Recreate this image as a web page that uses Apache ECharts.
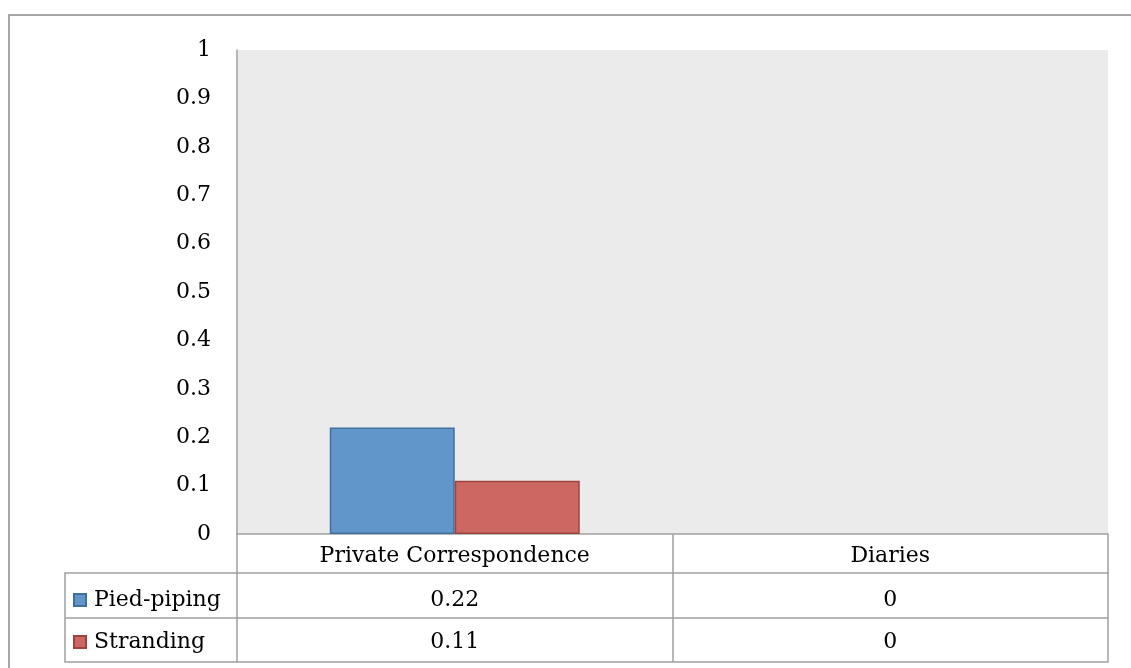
<!DOCTYPE html>
<html>
<head>
<meta charset="utf-8">
<script src="https://cdn.jsdelivr.net/npm/echarts@6/dist/echarts.min.js"></script>
<style>
  html, body { margin: 0; padding: 0; background: #fff; }
  #main { width: 1131px; height: 668px; }
</style>
</head>
<body>
<div id="main"></div>
<script>
// data
const categories = ['Private Correspondence', 'Diaries'];
const piedPiping = [0.22, 0];
const stranding = [0.11, 0];
const seriesNames = ['Pied-piping', 'Stranding'];

const font = 'DejaVu Serif';
const fontSize = 22;
const lineColor = '#a0a0a0';

const chart = echarts.init(document.getElementById('main'));

// one category axis per table row, stacked below the grid with offset
function tableAxis(offset, tickLen, values, margin) {
    return {
        type: 'category',
        data: categories,
        position: 'bottom',
        offset: offset,
        axisLine: { show: true, lineStyle: { color: lineColor, width: 1.5 } },
        axisTick: { show: tickLen > 0, length: tickLen, alignWithLabel: false, lineStyle: { color: lineColor, width: 1.5 } },
        axisLabel: {
            show: !!values,
            margin: margin,
            fontFamily: font,
            fontSize: fontSize,
            color: '#000',
            formatter: function (v, i) { return values ? String(values[i]) : ''; }
        },
        splitLine: { show: false }
    };
}

// zero bars get no outline (Excel draws nothing there)
function barData(values) {
    return values.map(function (v) {
        return v === 0 ? { value: v, itemStyle: { borderWidth: 0 } } : v;
    });
}

const legendText = { fontFamily: font, fontSize: fontSize, color: '#000', padding: [0, 0, 0, 3] };

const option = {
    animation: false,
    backgroundColor: '#fff',
    grid: {
        left: 237, right: 23, top: 50, bottom: 134,
        show: true, backgroundColor: '#ebebeb', borderWidth: 0
    },
    legend: [{
        data: [seriesNames[0]],
        left: 73, top: 589, padding: 0,
        itemWidth: 12, itemHeight: 12,
        icon: 'rect',
        textStyle: legendText
    }, {
        data: [seriesNames[1]],
        left: 73, top: 631, padding: 0,
        itemWidth: 12, itemHeight: 12,
        icon: 'rect',
        textStyle: legendText
    }],
    xAxis: [
        tableAxis(0, 39, categories, 11),
        tableAxis(39, 45, piedPiping, 16),
        tableAxis(84, 44, stranding, 13),
        tableAxis(128, 0, null, 0)
    ],
    yAxis: {
        type: 'value',
        min: 0, max: 1, interval: 0.1,
        axisLine: { show: true, lineStyle: { color: lineColor, width: 1.5 } },
        axisTick: { show: false },
        splitLine: { show: false },
        axisLabel: {
            margin: 26,
            padding: [4, 0, 0, 0],
            fontFamily: font,
            fontSize: fontSize,
            color: '#000'
        }
    },
    series: [{
        name: seriesNames[0],
        type: 'bar',
        data: barData(piedPiping),
        barGap: '0%',
        barCategoryGap: '42.6%',
        itemStyle: { color: '#6096ca', borderColor: '#41709e', borderWidth: 1.5 }
    }, {
        name: seriesNames[1],
        type: 'bar',
        data: barData(stranding),
        itemStyle: { color: '#cd6761', borderColor: '#9f4340', borderWidth: 1.5 }
    }],
    graphic: [
        // outer chart frame
        { type: 'rect', z: -10, shape: { x: 9, y: 15, width: 1140, height: 700 },
          style: { fill: 'none', stroke: '#a6a6a6', lineWidth: 2 } },
        // legend cell borders of the data table
        { type: 'polyline', shape: { points: [[237, 573], [65, 573], [65, 662], [237, 662]] },
          style: { fill: 'none', stroke: lineColor, lineWidth: 1.5 } },
        { type: 'line', shape: { x1: 65, y1: 618, x2: 237, y2: 618 },
          style: { stroke: lineColor, lineWidth: 1.5 } }
    ]
};

chart.setOption(option);
</script>
</body>
</html>
